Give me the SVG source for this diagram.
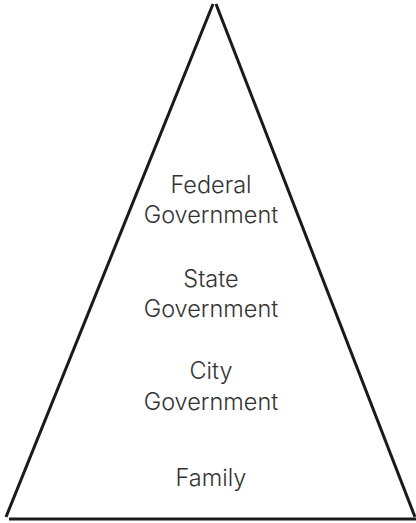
<svg xmlns="http://www.w3.org/2000/svg" width="416" height="523" viewBox="0 0 416 523">
<style>
.edge{stroke:#1a1a1a;stroke-width:3;fill:none;stroke-linecap:butt}
.lbl{font-family:Inter,"Liberation Sans",sans-serif;font-weight:300;font-size:23.5px;fill:#333;text-anchor:middle}
</style>
<rect width="416" height="523" fill="#fff"/>
<g id="connectors">
<line class="edge" x1="213" y1="4" x2="6" y2="517"/>
<line class="edge" x1="216" y1="4" x2="415" y2="517"/>
<line class="edge" x1="9" y1="519" x2="416" y2="519"/>
</g>
<g id="federal"><text class="lbl" x="211" y="193">Federal</text><text class="lbl" x="211" y="223">Government</text></g>
<g id="state"><text class="lbl" x="211" y="287">State</text><text class="lbl" x="211" y="317">Government</text></g>
<g id="city"><text class="lbl" x="211" y="379">City</text><text class="lbl" x="211" y="410">Government</text></g>
<g id="family"><text class="lbl" x="211" y="486">Family</text></g>
</svg>
